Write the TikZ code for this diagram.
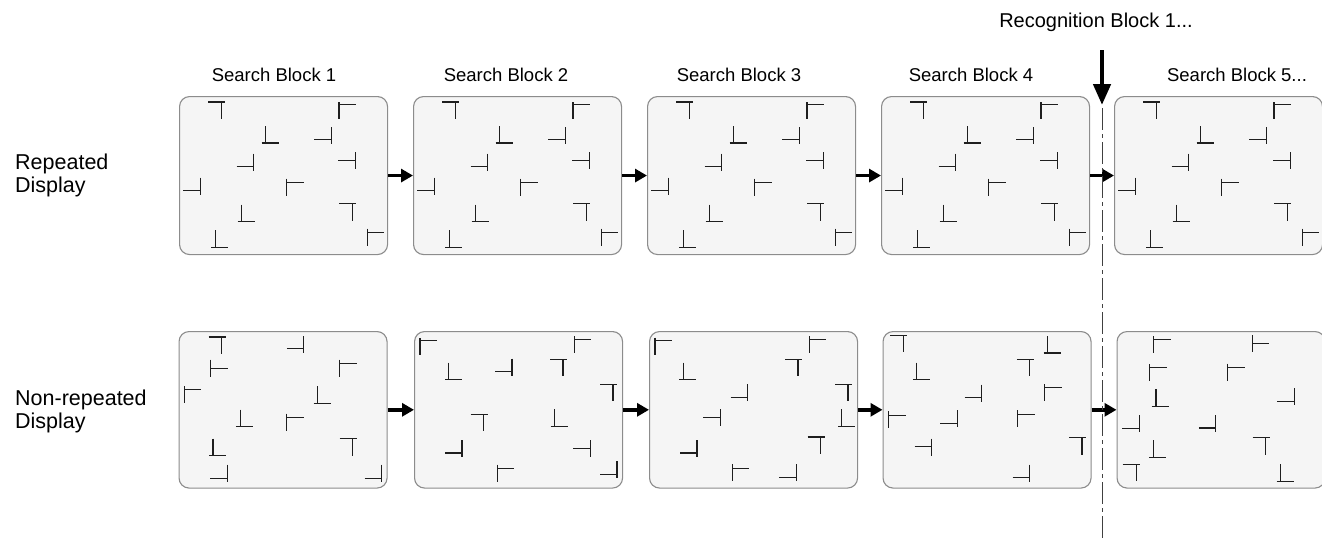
\documentclass[tikz,border=0pt]{standalone}
\usepackage{fontspec}
\setmainfont{Liberation Sans}
\usetikzlibrary{arrows.meta}
\definecolor{boxfill}{RGB}{245,245,245}
\definecolor{boxline}{RGB}{140,140,140}
\definecolor{glyphc}{RGB}{30,30,30}
\newcommand*\gTt[3]{\draw[glyph] (#1,#2) -- ++(17,0) (#1+17*#3,#2) -- ++(0,17);}
\newcommand*\gTb[3]{\draw[glyph] (#1,#2+17) -- ++(17,0) (#1+17*#3,#2) -- ++(0,17);}
\newcommand*\gTl[3]{\draw[glyph] (#1,#2) -- ++(0,17) (#1,#2+17*#3) -- ++(17,0);}
\newcommand*\gTr[3]{\draw[glyph] (#1+17,#2) -- ++(0,17) (#1,#2+17*#3) -- ++(17,0);}
\newcommand\repeatedset{%
\gTt{29.3}{6}{0.8}
\gTb{82.7}{30}{0.24}
\gTr{135.3}{31}{0.76}
\gTr{159.3}{56}{0.5}
\gTr{57.7}{57.7}{0.77}
\gTr{4.3}{81.7}{0.75}
\gTl{107.7}{82.7}{0.24}
\gTt{160.3}{107.7}{0.76}
\gTb{58.7}{108.7}{0.2}
\gTl{188.3}{132.7}{0.24}
\gTb{32}{134.3}{0.24}
\gTl{160}{6}{0.16}}
\begin{document}
\begin{tikzpicture}[x=1pt,y=-1pt,
  glyph/.style={draw=glyphc,line width=1.15pt},
  box/.style={draw=boxline,fill=boxfill,line width=1.1pt,rounded corners=10pt,
     minimum width=208pt,anchor=north west,inner sep=0pt},
  boxa/.style={box,minimum height=158pt},
  boxb/.style={box,minimum height=156.5pt},
  arr/.style={line width=3.5pt,-{Triangle[length=12pt,width=13pt]}},
  lbl/.style={font=\fontsize{18.5}{23}\selectfont,inner sep=0pt},
  rowlbl/.style={font=\fontsize{21.5}{23}\selectfont,inner sep=0pt,anchor=west,align=left},
  ]
\useasboundingbox (0,0) rectangle (1322,538);
% labels
\node[lbl] (t1) at (274,75) {Search Block 1};
\node[lbl] (t2) at (506,75) {Search Block 2};
\node[lbl] (t3) at (739,75) {Search Block 3};
\node[lbl] (t4) at (971,75) {Search Block 4};
\node[lbl] (t5) at (1237,75) {Search Block 5...};
\node[lbl,font=\fontsize{20}{23}\selectfont] (rec) at (1096,22) {Recognition Block 1...};
\node[rowlbl] (rep) at (15,175) {Repeated\\Display};
\node[rowlbl] (nrep) at (15,411) {Non-repeated\\Display};
% row 1 boxes
\node[boxa] (a1) at (179,96) {};
\node[boxa] (a2) at (413,96) {};
\node[boxa] (a3) at (647,96) {};
\node[boxa] (a4) at (881,96) {};
\node[boxa] (a5) at (1114,96) {};
\foreach \bx in {179,413,647,881,1114}{
  \begin{scope}[shift={(\bx,96)}]\repeatedset\end{scope}}
% row 2 boxes
\node[boxb] (b1) at (178.5,331) {};
\node[boxb] (b2) at (414,331) {};
\node[boxb] (b3) at (649,331) {};
\node[boxb] (b4) at (882.5,331) {};
\node[boxb] (b5) at (1116.5,331) {};
\begin{scope}[shift={(178.5,331)}]
\gTt{30}{6}{0.76}
\gTr{108.3}{5.3}{0.74}
\gTl{32.3}{28.7}{0.5}
\gTl{161}{28.7}{0.24}
\gTl{5.7}{55.3}{0.2}
\gTb{135}{55.3}{0.24}
\gTb{57.3}{78.7}{0.26}
\gTl{108.3}{82.7}{0.2}
\gTb{30.7}{107.7}{0.22}
\gTt{161}{107.7}{0.76}
\gTr{31.7}{133.7}{0.8}
\gTr{186}{133.7}{0.8}
\end{scope}
\begin{scope}[shift={(414,331)}]
\gTl{6}{7}{0.15}
\gTl{160.3}{5.3}{0.2}
\gTb{31}{31.7}{0.2}
\gTr{81}{27.7}{0.74}
\gTt{136}{28.3}{0.76}
\gTt{186}{53.3}{0.76}
\gTt{56.7}{83.3}{0.76}
\gTb{136.7}{78.3}{0.22}
\gTr{31}{109.3}{0.75}
\gTr{159.3}{109.3}{0.5}
\gTl{83.3}{133.7}{0.24}
\gTr{186}{130.3}{0.76}
\end{scope}
\begin{scope}[shift={(649,331)}]
\gTl{6}{6.7}{0.15}
\gTl{160.3}{5}{0.2}
\gTb{30.3}{31.7}{0.24}
\gTt{136}{28.3}{0.76}
\gTr{81.7}{53.3}{0.76}
\gTt{186}{53.3}{0.76}
\gTr{54.3}{78.3}{0.5}
\gTb{189.3}{78.3}{0.2}
\gTt{158.7}{106}{0.76}
\gTr{31}{109.3}{0.75}
\gTl{83.3}{133.3}{0.25}
\gTr{130.3}{133.3}{0.77}
\end{scope}
\begin{scope}[shift={(882.5,331)}]
\gTt{7.7}{4.3}{0.76}
\gTb{161}{5}{0.24}
\gTb{30.3}{31.7}{0.24}
\gTt{134.3}{28.3}{0.76}
\gTr{82}{53.7}{0.74}
\gTl{162}{53.3}{0.2}
\gTl{6}{80.3}{0.24}
\gTr{57.7}{79.3}{0.76}
\gTl{135}{79.3}{0.24}
\gTr{32}{107.7}{0.45}
\gTt{186.7}{106.7}{0.75}
\gTr{130}{133.7}{0.76}
\end{scope}
\begin{scope}[shift={(1116.5,331)}]
\gTl{37.3}{5}{0.2}
\gTl{135.7}{4.3}{0.5}
\gTl{33.3}{33.3}{0.2}
\gTl{111}{32.7}{0.24}
\gTb{35}{58.3}{0.26}
\gTr{160.7}{57.3}{0.76}
\gTr{5.7}{84.3}{0.76}
\gTr{82.3}{84}{0.76}
\gTt{136}{106.7}{0.76}
\gTb{32.7}{109.3}{0.24}
\gTt{6}{133.3}{0.8}
\gTb{160}{133.3}{0.24}
\end{scope}
% arrows
\draw[arr] (a1.east) -- (a2.west);
\draw[arr] (a2.east) -- (a3.west);
\draw[arr] (a3.east) -- (a4.west);
\draw[arr] (a4.east) -- (a5.west);
\draw[arr] (b1.east) -- (b2.west);
\draw[arr] (b2.east) -- (b3.west);
\draw[arr] (b3.east) -- (b4.west);
\draw[arr] (b4.east) -- (b5.west);
% recognition marker
\coordinate (rtop) at (1102,50);
\coordinate (rtip) at (1102,105);
\coordinate (dtop) at (1102,108);
\coordinate (dbot) at (1102,538);
\draw[line width=4.5pt,-{Triangle[length=21pt,width=17pt]}] (rtop) -- (rtip);
\draw[draw=black!75,line width=1pt,dash pattern=on 22pt off 4pt on 4pt off 4pt] (dtop) -- (dbot);
\end{tikzpicture}
\end{document}
